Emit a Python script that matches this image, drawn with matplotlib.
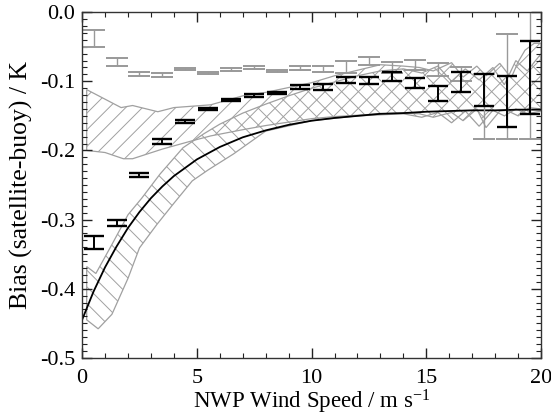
import matplotlib
matplotlib.use('Agg')
import matplotlib.pyplot as plt
import numpy as np
from matplotlib.ticker import MultipleLocator, FormatStrFormatter

plt.rcParams['font.family'] = ['Liberation Serif', 'DejaVu Serif']
plt.rcParams['mathtext.fontset'] = 'custom'
plt.rcParams['mathtext.rm'] = 'Liberation Serif'
plt.rcParams['mathtext.default'] = 'regular'
plt.rcParams['axes.unicode_minus'] = False
plt.rcParams['hatch.linewidth'] = 0.7

# bin centres
bins = np.arange(0.5, 20, 1.0)

# black error bars (upper / lower cap values)
black_hi = [-0.324, -0.301, -0.233, -0.183, -0.156, -0.138, -0.126, -0.119, -0.115, -0.105,
            -0.104, -0.094, -0.094, -0.087, -0.095, -0.107, -0.087, -0.090, -0.093, -0.042]
black_lo = [-0.342, -0.310, -0.238, -0.190, -0.160, -0.141, -0.129, -0.123, -0.118, -0.111,
            -0.112, -0.103, -0.104, -0.100, -0.110, -0.128, -0.116, -0.135, -0.166, -0.148]

# grey error bars
grey_hi = [-0.026, -0.067, -0.086, -0.088, -0.081, -0.086, -0.081, -0.078, -0.083, -0.078,
           -0.078, -0.071, -0.065, -0.072, -0.069, -0.074, -0.080, -0.090, -0.032, 0.002]
grey_lo = [-0.051, -0.078, -0.093, -0.094, -0.084, -0.089, -0.085, -0.082, -0.087, -0.083,
           -0.086, -0.088, -0.077, -0.088, -0.084, -0.092, -0.100, -0.183, -0.183, -0.183]

# model curve
curve_x = [0, 0.5, 1, 1.5, 2, 2.5, 3, 3.5, 4, 5, 6, 7, 8, 9, 10, 11, 12, 13, 14, 15, 16, 17, 18, 19, 20]
curve_y = [-0.445, -0.404, -0.369, -0.339, -0.312, -0.289, -0.269, -0.252, -0.237, -0.213, -0.195,
           -0.181, -0.171, -0.163, -0.157, -0.153, -0.150, -0.147, -0.146, -0.144, -0.143, -0.142,
           -0.142, -0.141, -0.141]

# band A ( /// hatch )
a_up_x = [0.2, 1.7, 2.2, 3.3, 4, 5.6, 7, 8, 9, 10, 11, 12, 13, 14, 14.7, 15.3, 16.1, 16.6,
          17.2, 17.6, 18.2, 18.7, 19.0, 19.3, 19.7, 20]
a_up_y = [-0.112, -0.138, -0.135, -0.144, -0.138, -0.134, -0.121, -0.116, -0.109, -0.102, -0.092,
          -0.084, -0.076, -0.078, -0.080, -0.085, -0.073, -0.094, -0.078, -0.092, -0.074, -0.095,
          -0.072, -0.055, -0.045, -0.045]
a_lo_x = [0.2, 1, 1.8, 2.2, 3.5, 4.8, 5.6, 7, 8, 9, 10, 11, 12, 13, 14, 14.7, 15.3, 16.1, 16.6,
          17.2, 17.6, 18.2, 18.5, 19, 19.5, 20]
a_lo_y = [-0.200, -0.203, -0.212, -0.212, -0.198, -0.186, -0.179, -0.170, -0.164, -0.159, -0.154,
          -0.151, -0.149, -0.147, -0.146, -0.147, -0.152, -0.145, -0.157, -0.140, -0.167, -0.143,
          -0.142, -0.150, -0.138, -0.140]

# band B ( \\\ hatch )
b_up_x = [0.2, 0.6, 1.3, 2, 2.6, 3.4, 4.4, 5.3, 6, 7, 8, 9, 10, 11, 12, 13, 14, 14.8, 15.5,
          16.1, 16.7, 17.3, 17.9, 18.4, 18.9, 19.4, 20]
b_up_y = [-0.368, -0.378, -0.336, -0.293, -0.269, -0.234, -0.196, -0.176, -0.162, -0.146, -0.133,
          -0.121, -0.110, -0.101, -0.092, -0.085, -0.082, -0.088, -0.078, -0.100, -0.082, -0.098,
          -0.080, -0.105, -0.070, -0.085, -0.060]
b_lo_x = [0.2, 0.7, 1.3, 2.0, 2.5, 3.26, 3.96, 4.8, 5.5, 6.6, 8, 10, 12, 14, 14.8, 15.5, 16.1,
          16.7, 17.3, 17.9, 18.4, 18.9, 19.4, 20]
b_lo_y = [-0.445, -0.458, -0.437, -0.385, -0.341, -0.307, -0.278, -0.244, -0.228, -0.205, -0.172,
          -0.157, -0.150, -0.147, -0.152, -0.145, -0.160, -0.143, -0.165, -0.142, -0.150, -0.140,
          -0.147, -0.143]

fig = plt.figure(figsize=(5.51, 4.2), dpi=100)
ax = fig.add_axes([0.149, 0.148, 0.833, 0.823])

def band(xu, yu, xl, yl, hatch):
    px = np.concatenate([xu, xl[::-1]])
    py = np.concatenate([yu, yl[::-1]])
    ax.fill(px, py, facecolor='none', edgecolor='#a0a0a0', hatch=hatch, linewidth=0.9)

band(a_up_x, a_up_y, a_lo_x, a_lo_y, '//')
band(b_up_x, b_up_y, b_lo_x, b_lo_y, '\\\\')

ax.plot(curve_x, curve_y, color='black', linewidth=1.3)

grey_hi = np.array(grey_hi)
grey_lo = np.array(grey_lo)
g_mid = (grey_hi + grey_lo) / 2
g_err = (grey_hi - grey_lo) / 2
ax.errorbar(bins, g_mid, yerr=g_err, fmt='none', ecolor='#999999', elinewidth=1.0,
            capsize=8, capthick=1.4)

black_hi = np.array(black_hi)
black_lo = np.array(black_lo)
b_mid = (black_hi + black_lo) / 2
b_err = (black_hi - black_lo) / 2
ax.errorbar(bins, b_mid, yerr=b_err, fmt='none', ecolor='black', elinewidth=1.4,
            capsize=7.5, capthick=1.7)

ax.set_xlim(0, 20)
ax.set_ylim(-0.5, 0.0)
ax.xaxis.set_major_locator(MultipleLocator(5))
ax.xaxis.set_minor_locator(MultipleLocator(1))
ax.yaxis.set_major_locator(MultipleLocator(0.1))
ax.yaxis.set_minor_locator(MultipleLocator(0.01))
ax.yaxis.set_major_formatter(FormatStrFormatter('%.1f'))
ax.tick_params(which='both', direction='in', top=True, right=True, colors='#222222',
               labelsize=16, labelcolor='black')
ax.tick_params(axis='x', which='major', pad=8)
ax.tick_params(axis='y', which='major', pad=5)
ax.tick_params(which='major', length=7, width=1)
ax.tick_params(which='minor', length=3.5, width=0.8)
for s in ax.spines.values():
    s.set_color('#333333')
    s.set_linewidth(1.0)

ax.set_xlabel('NWP Wind Speed / m s$^{-1}$', fontsize=16.5, labelpad=0)
ax.set_ylabel('Bias (satellite-buoy) / K', fontsize=18.5, labelpad=5)

fig.savefig('out.png', dpi=100)
